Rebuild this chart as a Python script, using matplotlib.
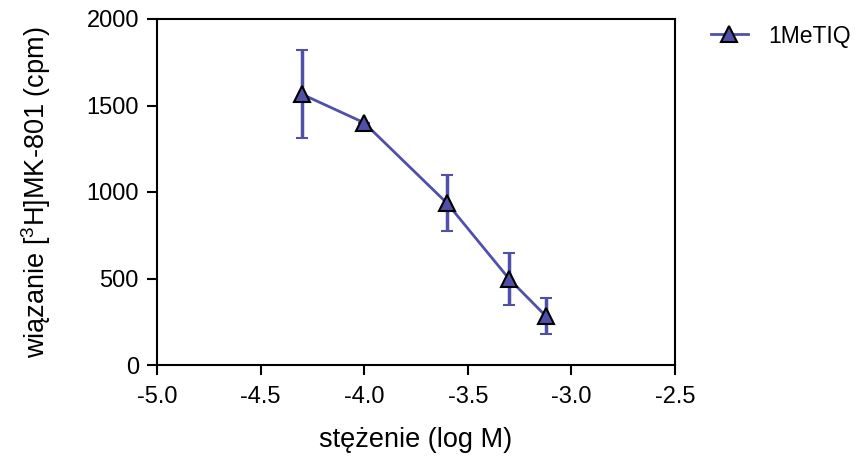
import matplotlib.pyplot as plt
import numpy as np

plt.rcParams['font.family'] = ['Liberation Sans', 'DejaVu Sans']
plt.rcParams['mathtext.fontset'] = 'custom'
plt.rcParams['mathtext.rm'] = 'Liberation Sans'
plt.rcParams['mathtext.it'] = 'Liberation Sans'
plt.rcParams['axes.unicode_minus'] = False

# dane
log_conc = [-4.3, -4.0, -3.6, -3.3, -3.125]
binding = [1565, 1400, 935, 497, 285]
sem = [255, 0, 162, 148, 103]
series_name = "1MeTIQ"

color = "#5050A8"

fig = plt.figure(figsize=(8.59, 4.59), dpi=100)
ax = fig.add_axes([157/859, 1 - 365/459, (675 - 157)/859, (365 - 19)/459])

ax.errorbar(log_conc, binding, yerr=sem, color=color, linewidth=2,
            elinewidth=2.5, capsize=4, capthick=2.5,
            marker="^", markersize=11, markerfacecolor=color,
            markeredgecolor="black", markeredgewidth=1.5, label=series_name)

ax.set_xlim(-5.0, -2.5)
ax.set_ylim(0, 2000)
xt = np.arange(-5.0, -2.49, 0.5)
ax.set_xticks(xt)
ax.set_xticklabels([f"{v:.1f}" for v in xt])
ax.set_yticks([0, 500, 1000, 1500, 2000])

for s in ax.spines.values():
    s.set_linewidth(1.5)
ax.tick_params(direction="out", length=7, width=1.5, labelsize=17)
ax.tick_params(axis="x", pad=8)
ax.tick_params(axis="y", pad=6)

ax.set_xlabel("stężenie (log M)", fontsize=19.5, labelpad=14)
ax.set_ylabel("wiązanie [$^{3}$H]MK-801 (cpm)", fontsize=19.5, labelpad=24)

handles, labels = ax.get_legend_handles_labels()
handles = [h[0] for h in handles]
fig.legend(handles, labels, loc="center left", bbox_to_anchor=(711/859, 1 - 36/459),
           frameon=False, fontsize=16.5, handlelength=1.6, handletextpad=0.9,
           borderpad=0, borderaxespad=0)

plt.savefig("out.png", dpi=100)
plt.close()
